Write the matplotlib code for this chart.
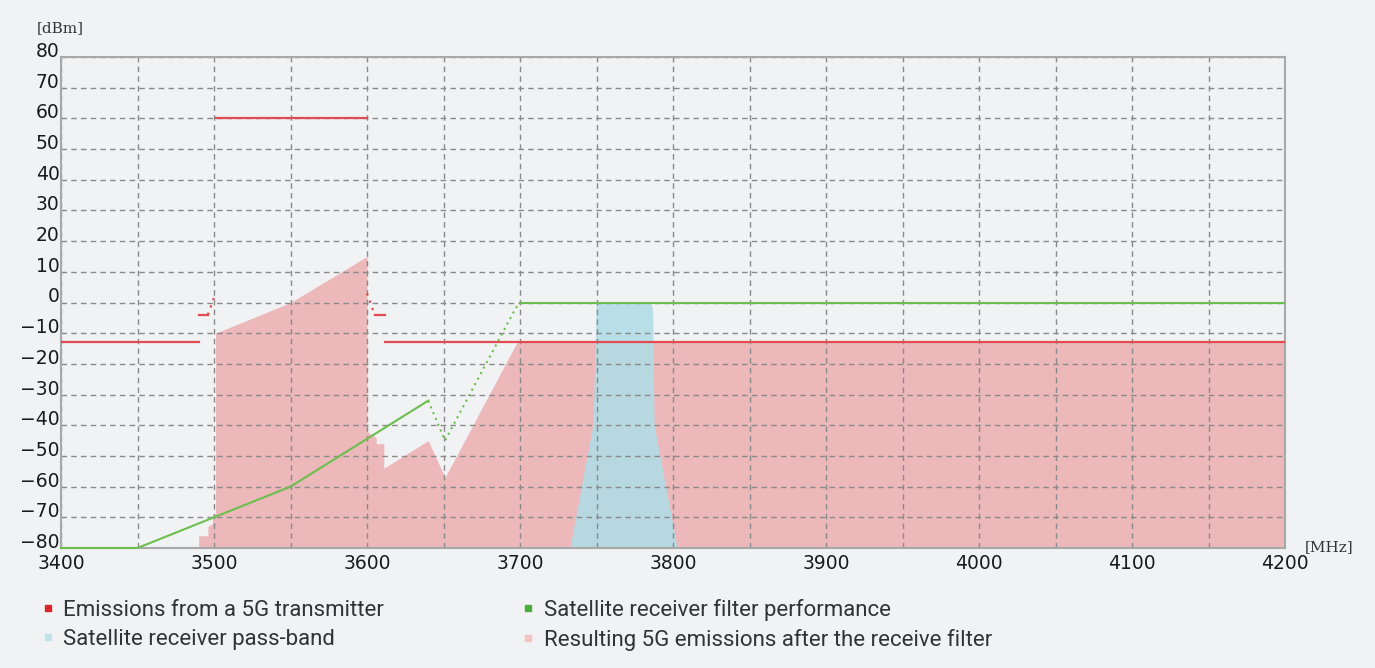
import numpy as np
import matplotlib
matplotlib.use("Agg")
import matplotlib.pyplot as plt
from matplotlib.lines import Line2D

nan = np.nan

# 5G transmitter emission mask (solid parts, NaN = break)
tx_freq = [3400, 3490, nan, 3490, 3496, nan, 3501, 3600, nan, 3605, 3612, nan, 3612, 4200]
tx_level = [-13, -13, nan, -4, -4, nan, 60, 60, nan, -4, -4, nan, -13, -13]
# steep edges of the mask, drawn dotted
tx_edge_freq = [3496, 3501, nan, 3600, 3605]
tx_edge_level = [-4, 3, nan, 3, -4]

# satellite receiver filter performance
filt_freq = [3400, 3450, 3550, 3640]
filt_level = [-80, -80, -60, -32]
filt_edge_freq = [3640, 3651, 3697, 3700]
filt_edge_level = [-32, -45, -2, 0]
filt_flat_freq = [3700, 4200]
filt_flat_level = [0, 0]

# resulting 5G emissions after the receive filter
res_freq = [3490, 3496, 3496, 3499, 3499, 3501, 3501, 3550, 3600, 3600, 3606,
            3606, 3611, 3611, 3640, 3651, 3698, 4200]
res_level = [-76, -76, -73, -72, -69, -69, -10, 0, 15, -42, -44,
             -46, -46, -54, -45, -57, -13, -13]

# satellite receiver pass-band outline
pb_freq = [3733, 3748, 3749.5, 3750, 3786, 3787, 3788, 3803]
pb_level = [-80, -40, -13, 0, 0, -3, -40, -80]

x_ticks = list(range(3400, 4201, 100))
y_ticks = list(range(-80, 81, 10))

bg = "#f1f2f4"
red = "#e04c4f"
green = "#6cbf4e"
pink = "#ecb8ba"
blue = "#b0dde6"

fig = plt.figure(figsize=(13.75, 6.68), dpi=100, facecolor=bg)
ax = fig.add_axes([61 / 1375, 1 - 548 / 668, (1285 - 61) / 1375, (548 - 57) / 668])
ax.set_facecolor(bg)

ax.fill_between(res_freq, res_level, -80, color=pink, lw=0, zorder=1)
ax.fill(pb_freq, pb_level, color=blue, alpha=0.88, lw=0, zorder=1.2)

ax.plot(tx_freq, tx_level, color=red, lw=1.6, zorder=3)
ax.plot(tx_edge_freq, tx_edge_level, color=red, lw=1.6, ls=(0, (1, 2.5)), zorder=3)
ax.plot(filt_freq, filt_level, color=green, lw=1.5, zorder=3, clip_on=False)
ax.plot(filt_edge_freq, filt_edge_level, color=green, lw=1.5, ls=(0, (1, 2)), zorder=3)
ax.plot(filt_flat_freq, filt_flat_level, color=green, lw=1.5, zorder=3)

ax.set_xlim(3400, 4200)
ax.set_ylim(-80, 80)
ax.set_xticks(x_ticks)
ax.set_xticks(range(3450, 4200, 100), minor=True)
ax.set_yticks(y_ticks)
ax.set_yticklabels(["\u2212%d" % -v if v < 0 else str(v) for v in y_ticks])
ax.grid(True, which="both", color="#8a8a8a", ls=(0, (4, 3)), lw=1.0, zorder=2)
ax.tick_params(which="both", length=0, labelsize=13.5, labelcolor="#1a1a1a")
ax.tick_params(axis="x", pad=4)
ax.tick_params(axis="y", pad=1)
for lab in ax.get_yticklabels():
    lab.set_verticalalignment("baseline")
for s in ax.spines.values():
    s.set_color("#a8a8a8")
    s.set_linewidth(1.5)

fig.text(37 / 1375, 1 - 28 / 668, "[dBm]", family="DejaVu Serif", fontsize=11,
         color="#333333", va="center")
fig.text(1305 / 1375, 1 - 547 / 668, "[MHz]", family="DejaVu Serif", fontsize=11,
         color="#333333", va="center")

handles = [
    Line2D([], [], ls="", marker="s", ms=5, color="#d9262c"),
    Line2D([], [], ls="", marker="s", ms=5, color="#bfe3e6"),
    Line2D([], [], ls="", marker="s", ms=5, color="#4cae3c"),
    Line2D([], [], ls="", marker="s", ms=5, color="#f5c3c5"),
]
labels = [
    "Emissions from a 5G transmitter",
    "Satellite receiver pass-band",
    "Satellite receiver filter performance",
    "Resulting 5G emissions after the receive filter",
]
fig.legend(handles, labels, ncol=2, loc="upper left",
           bbox_to_anchor=(22 / 1375, 1 - 579 / 668), frameon=False,
           prop={"family": "Roboto", "size": 16},
           labelcolor="#333333", handlelength=0.5, handletextpad=0.45,
           columnspacing=6.25, labelspacing=0.35)

fig.savefig("out.png", dpi=100, facecolor=bg)
